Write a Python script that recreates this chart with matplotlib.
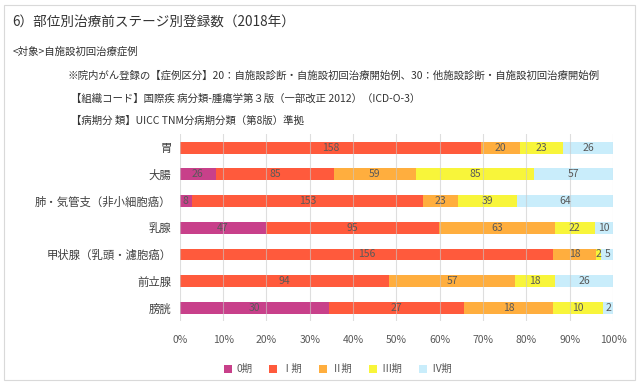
import matplotlib
matplotlib.use("Agg")
import matplotlib.pyplot as plt
import numpy as np
from matplotlib.patches import Rectangle

plt.rcParams["font.family"] = ["Noto Sans CJK JP", "DejaVu Sans"]

SITES = ["胃", "大腸", "肺・気管支（非小細胞癌）", "乳腺", "甲状腺（乳頭・濾胞癌）", "前立腺", "膀胱"]
STAGES = ["0期", "Ⅰ期", "Ⅱ期", "Ⅲ期", "Ⅳ期"]
COLORS = ["#C8408A", "#FF5A3C", "#FFAE3E", "#F8F53A", "#C9EDFB"]

STAGE0 = [0, 26, 8, 47, 0, 0, 30]
STAGE1 = [158, 85, 153, 95, 156, 94, 27]
STAGE2 = [20, 59, 23, 63, 18, 57, 18]
STAGE3 = [23, 85, 39, 22, 2, 18, 10]
STAGE4 = [26, 57, 64, 10, 5, 26, 2]

TEXTS = [
    (0.019, 0.943, "6）部位別治療前ステージ別登録数（2018年）", 9.8),
    (0.019, 0.868, "<対象>自施設初回治療症例", 7.5),
    (0.106, 0.806, "※院内がん登録の【症例区分】20：自施設診断・自施設初回治療開始例、30：他施設診断・自施設初回治療開始例", 7.5),
    (0.111, 0.746, "【組織コード】国際疾 病分類-腫瘍学第３版（一部改正 2012）（ICD-O-3）", 7.5),
    (0.111, 0.687, "【病期分 類】UICC TNM分病期分類（第8版）準拠", 7.5),
]


def main():
    data = np.array([STAGE0, STAGE1, STAGE2, STAGE3, STAGE4], dtype=float)
    pct = data / data.sum(axis=0) * 100

    fig = plt.figure(figsize=(6.4, 3.87), dpi=100)
    fig.patches.append(Rectangle((0.007, 0.018), 0.985, 0.968, transform=fig.transFigure,
                                 fill=False, edgecolor="#d9d9d9", lw=0.8))
    for x, y, s, fs in TEXTS:
        fig.text(x, y, s, fontsize=fs, color="#333333", va="center")

    ax = fig.add_axes([0.281, 0.17, 0.677, 0.483])
    y = np.arange(len(SITES))
    left = np.zeros(len(SITES))
    for i, stage in enumerate(STAGES):
        ax.barh(y, pct[i], left=left, height=0.44, color=COLORS[i], label=stage, zorder=1)
        for j in range(len(SITES)):
            if data[i, j] > 0:
                ax.text(left[j] + pct[i, j] / 2, y[j], f"{int(data[i, j])}",
                        ha="center", va="center", fontsize=7.5, color="#595959", zorder=3)
        left += pct[i]

    ax.set_xlim(0, 100)
    ax.set_ylim(len(SITES) - 0.5, -0.5)
    ax.set_xticks(np.arange(0, 101, 10))
    ax.set_xticklabels([f"{v}%" for v in range(0, 101, 10)], fontsize=7.5, color="#595959")
    ax.set_yticks(y)
    ax.set_yticklabels(SITES, fontsize=8.2, color="#404040")
    ax.tick_params(length=0, pad=6)
    ax.tick_params(axis="x", pad=10)
    ax.grid(axis="x", color="#c8c8c8", lw=0.8, alpha=0.6, zorder=2)
    ax.set_axisbelow(False)
    for s in ["top", "right", "bottom", "left"]:
        ax.spines[s].set_visible(False)

    ax.legend(loc="upper center", bbox_to_anchor=(0.365, -0.18), ncol=5, frameon=False,
              fontsize=7.5, handlelength=0.8, handleheight=0.8, columnspacing=1.6,
              handletextpad=0.4, labelcolor="#595959")

    fig.savefig("out.png", dpi=100)
    plt.close(fig)


if __name__ == "__main__":
    main()
